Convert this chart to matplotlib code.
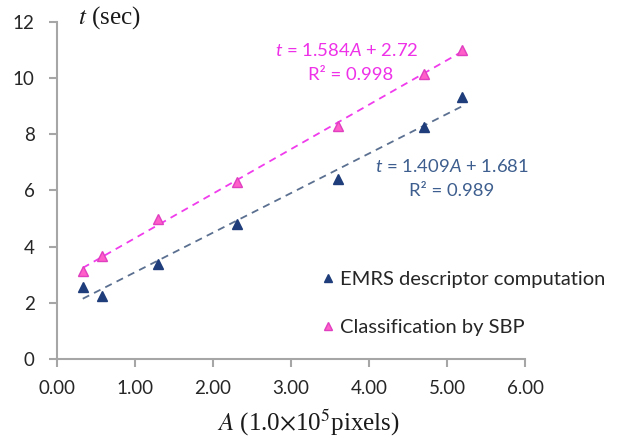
import matplotlib
matplotlib.use("Agg")
import matplotlib.pyplot as plt
import numpy as np
from matplotlib.ticker import FormatStrFormatter

plt.rcParams['font.family'] = ['Lato', 'DejaVu Sans']
plt.rcParams['mathtext.fontset'] = 'custom'
plt.rcParams['mathtext.rm'] = 'Lato'
plt.rcParams['mathtext.it'] = 'Lato:italic'

# data
area = [0.33, 0.58, 1.30, 2.31, 3.60, 4.70, 5.19]
t_emrs = [2.56, 2.24, 3.38, 4.80, 6.40, 8.26, 9.33]
t_sbp = [3.14, 3.67, 5.00, 6.29, 8.30, 10.14, 11.02]

# trend lines as printed on the chart
emrs_fit = (1.409, 1.681)
sbp_fit = (1.584, 2.72)

navy = '#1F3D7A'
navy_line = '#5B7090'
navy_txt = '#3D5E8E'
pink = '#FF5FC8'
pink_line = '#F03CEC'
pink_txt = '#EE30E8'
grey = '#A6A6A6'

fig = plt.figure(figsize=(6.17, 4.37), dpi=100)
ax = fig.add_axes([0.0924, 0.1785, 0.7585, 0.7712])

xs = np.array([area[0], area[-1]])
ax.plot(xs, emrs_fit[0] * xs + emrs_fit[1], ls='--', color=navy_line, lw=1.3, dashes=(4, 3))
ax.plot(xs, sbp_fit[0] * xs + sbp_fit[1], ls='--', color=pink_line, lw=1.3, dashes=(4, 3))

ax.plot(area, t_emrs, ls='none', marker='^', ms=7.5, color=navy, mec=navy,
        label='EMRS descriptor computation')
ax.plot(area, t_sbp, ls='none', marker='^', ms=7.5, color=pink, mec='#E040C0',
        label='Classification by SBP')

ax.set_xlim(0, 6)
ax.set_ylim(0, 12)
ax.set_xticks(np.arange(0, 6.01, 1))
ax.set_yticks(np.arange(0, 12.1, 2))
ax.xaxis.set_major_formatter(FormatStrFormatter('%.2f'))

for side in ['top', 'right']:
    ax.spines[side].set_visible(False)
for side in ['left', 'bottom']:
    ax.spines[side].set_color(grey)
    ax.spines[side].set_linewidth(1.5)
ax.tick_params(direction='out', length=6, width=1.5, color=grey,
               labelsize=13.5, labelcolor='#262626')
ax.tick_params(axis='y', pad=10)
ax.tick_params(axis='x', pad=9)

ax.set_xlabel(r'$A$ (1.0$\times$10$^5$pixels)', family='Liberation Serif',
              math_fontfamily='stix', fontsize=18, color='#1A1A1A')
ax.xaxis.set_label_coords(0.536, -0.145)
ax.text(0.045, 1.012, r'$t$ (sec)', transform=ax.transAxes, family='Liberation Serif',
        math_fontfamily='stix', fontsize=18, va='center', ha='left', color='#1A1A1A')

ax.text(3.72, 10.98, r'$t$ = 1.584$A$ + 2.72', color=pink_txt, fontsize=13.3,
        ha='center', va='center')
ax.text(3.76, 10.11, 'R² = 0.998', color=pink_txt, fontsize=13.3,
        ha='center', va='center')
ax.text(5.06, 6.87, r'$t$ = 1.409$A$ + 1.681', color=navy_txt, fontsize=13.3,
        ha='center', va='center')
ax.text(5.06, 5.98, 'R² = 0.989', color=navy_txt, fontsize=13.3,
        ha='center', va='center')

leg = ax.legend(loc='center left', bbox_to_anchor=(0.53, 0.165), frameon=False,
                fontsize=14.5, handlelength=0.5, handletextpad=0.35,
                labelspacing=1.55, markerscale=0.75)
for txt in leg.get_texts():
    txt.set_color('#262626')

fig.savefig('out.png', dpi=100)
